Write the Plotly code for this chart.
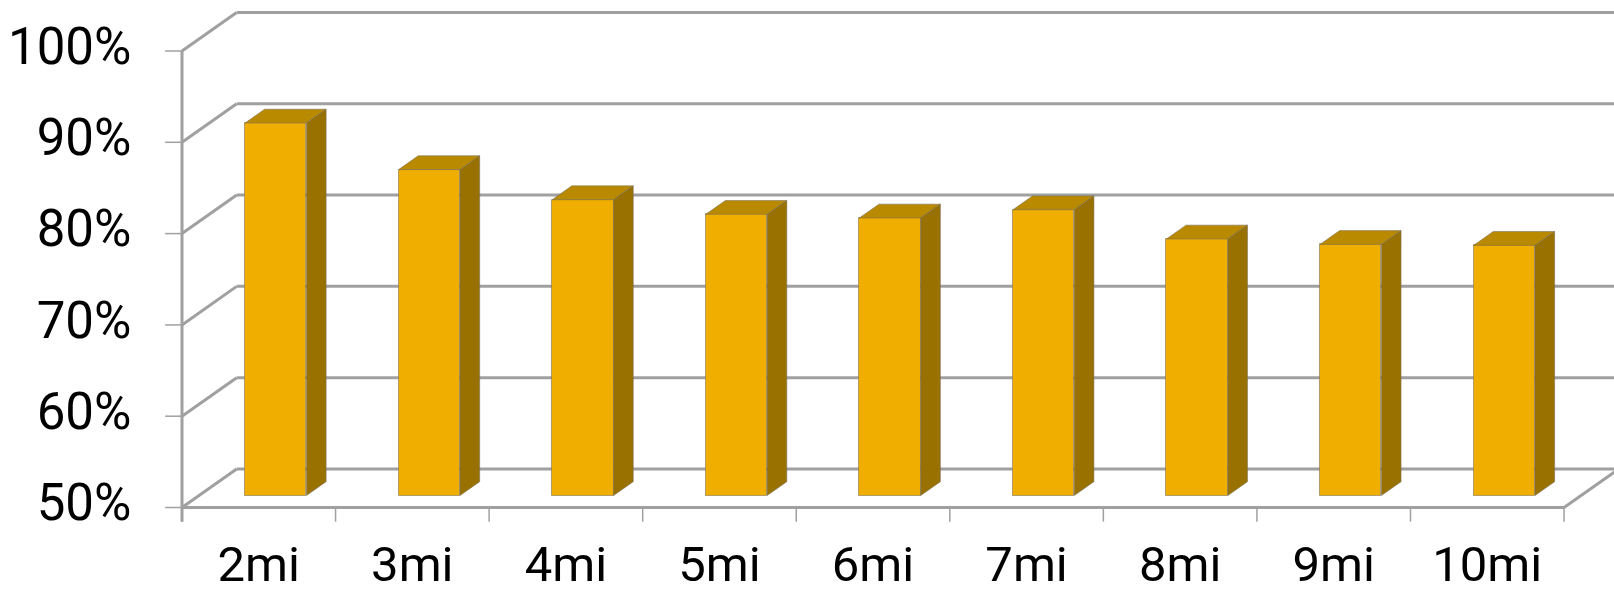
import plotly.graph_objects as go

# Share of runs per distance band
categories = ["2mi", "3mi", "4mi", "5mi", "6mi", "7mi", "8mi", "9mi", "10mi"]
values = [90.8, 85.7, 82.4, 80.8, 80.4, 81.3, 78.1, 77.5, 77.4]
y_ticks = [50, 60, 70, 80, 90, 100]
y_tick_labels = ["50%", "60%", "70%", "80%", "90%", "100%"]

# Oblique "3-D" projection: depth offsets expressed in axis units
DEPTH_X = 0.356      # category units per full depth
DEPTH_Y = 4.22       # percentage points per full depth
BAR_W = 0.40
BAR_D0, BAR_D1 = 0.31, 0.67   # bar front / back depth fraction
FLOOR = y_ticks[0]
X_LEFT = -0.5
X_RIGHT = len(categories) - 0.5

FRONT = "#F0AE00"
TOP = "#B98A00"
SIDE = "#997100"
EDGE = "rgba(120,110,90,0.55)"
GRID = "#A0A0A0"
FONT = "Liberation Sans Narrow, Roboto, sans-serif"

fig = go.Figure()

# back wall gridlines and left wall diagonals, kept beneath the bars
for v in y_ticks:
    fig.add_shape(type="line", layer="below", xref="x", yref="y",
                  x0=X_LEFT, y0=v, x1=X_LEFT + DEPTH_X, y1=v + DEPTH_Y,
                  line=dict(color=GRID, width=3))
    fig.add_shape(type="line", layer="below", xref="x", yref="y",
                  x0=X_LEFT + DEPTH_X, y0=v + DEPTH_Y,
                  x1=X_RIGHT + DEPTH_X + 0.5, y1=v + DEPTH_Y,
                  line=dict(color=GRID, width=3))

# floor front edge and right diagonal, front vertical axis
fig.add_trace(go.Scatter(
    x=[X_LEFT, X_RIGHT, X_RIGHT + DEPTH_X, None, X_LEFT, X_LEFT],
    y=[FLOOR, FLOOR, FLOOR + DEPTH_Y, None, FLOOR - 1.55, y_ticks[-1]],
    mode="lines", line=dict(color=GRID, width=3), hoverinfo="skip"))

# tick marks
tx, ty = [], []
for v in y_ticks:
    tx += [X_LEFT - 0.11, X_LEFT, None]
    ty += [v, v, None]
for k in range(len(categories) + 1):
    tx += [X_LEFT + k, X_LEFT + k, None]
    ty += [FLOOR, FLOOR - 1.55, None]
fig.add_trace(go.Scatter(x=tx, y=ty, mode="lines",
                         line=dict(color=GRID, width=1.5), hoverinfo="skip"))

# bar front faces
fx = [i + BAR_D0 * DEPTH_X for i in range(len(categories))]
fig.add_trace(go.Bar(
    x=fx, y=[v - FLOOR for v in values], base=FLOOR + BAR_D0 * DEPTH_Y,
    width=BAR_W, marker=dict(color=FRONT, line=dict(color=EDGE, width=1)),
    hoverinfo="skip"))

# bar top and side faces
for i, v in enumerate(values):
    l0 = i - BAR_W / 2 + BAR_D0 * DEPTH_X
    r0 = i + BAR_W / 2 + BAR_D0 * DEPTH_X
    l1 = i - BAR_W / 2 + BAR_D1 * DEPTH_X
    r1 = i + BAR_W / 2 + BAR_D1 * DEPTH_X
    t0 = v + BAR_D0 * DEPTH_Y
    t1 = v + BAR_D1 * DEPTH_Y
    b0 = FLOOR + BAR_D0 * DEPTH_Y
    b1 = FLOOR + BAR_D1 * DEPTH_Y
    fig.add_trace(go.Scatter(x=[l0, r0, r1, l1, l0], y=[t0, t0, t1, t1, t0],
                             fill="toself", fillcolor=TOP, mode="lines",
                             line=dict(color=EDGE, width=1), hoverinfo="skip"))
    fig.add_trace(go.Scatter(x=[r0, r1, r1, r0, r0], y=[t0, t1, b1, b0, t0],
                             fill="toself", fillcolor=SIDE, mode="lines",
                             line=dict(color=EDGE, width=1), hoverinfo="skip"))

# axis labels
fig.add_trace(go.Scatter(
    x=[X_LEFT - 0.33] * len(y_ticks), y=y_ticks, text=y_tick_labels,
    mode="text", textposition="middle left", cliponaxis=False,
    textfont=dict(family=FONT, size=51, color="#000000"), hoverinfo="skip"))
fig.add_trace(go.Scatter(
    x=list(range(len(categories))), y=[FLOOR - 6.75] * len(categories),
    text=categories, mode="text", textposition="middle center", cliponaxis=False,
    textfont=dict(family=FONT, size=49, color="#000000"), hoverinfo="skip"))

fig.update_layout(
    width=1614, height=596,
    margin=dict(l=0, r=0, t=0, b=0),
    paper_bgcolor="white", plot_bgcolor="white",
    showlegend=False, bargap=0,
    xaxis=dict(range=[-1.6852, 8.8253], visible=False, fixedrange=True),
    yaxis=dict(range=[40.307, 105.586], visible=False, fixedrange=True),
)

fig.write_html("out.html")
